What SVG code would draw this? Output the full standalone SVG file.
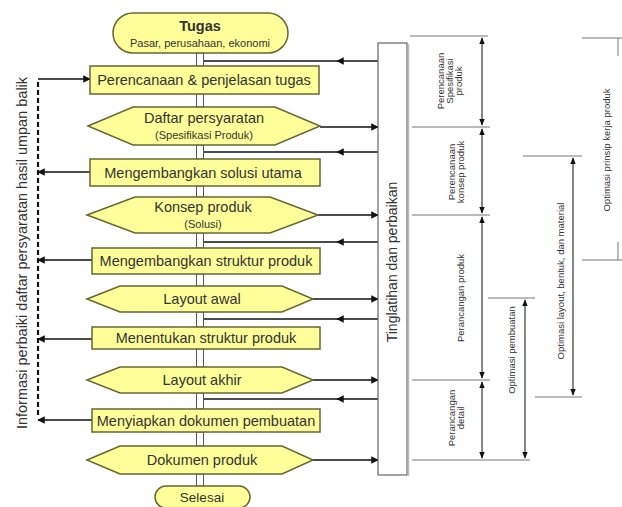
<svg xmlns="http://www.w3.org/2000/svg" width="622" height="507" viewBox="0 0 622 507">
<style>
.nd{fill:#ffff99;stroke:#666633;stroke-width:1.5}
.t{font-family:"Liberation Sans",Arial,sans-serif;fill:#333;text-anchor:middle}
.m{font-size:14.5px}
.s{font-size:11px}
.c{fill:#fff;stroke:#555;stroke-width:1}
.ln{stroke:#111;stroke-width:1.5;fill:none}
.tk{stroke:#777;stroke-width:1;fill:none}
.va{stroke:#111;stroke-width:1;fill:none;marker-start:url(#ah2);marker-end:url(#ah2)}
.r{font-family:"Liberation Sans",Arial,sans-serif;fill:#333;text-anchor:middle;font-size:9.5px}
</style>
<defs>
<marker id="ah" viewBox="0 0 10 10" refX="9" refY="5" markerWidth="5" markerHeight="5" orient="auto"><path d="M0,0L10,5L0,10z" fill="#111"/></marker>
<marker id="ahm" viewBox="0 0 10 10" refX="5" refY="5" markerWidth="5" markerHeight="5" orient="auto"><path d="M0,0L10,5L0,10z" fill="#111"/></marker>
<marker id="ah2" viewBox="0 0 10 10" refX="9" refY="5" markerWidth="7" markerHeight="7" orient="auto-start-reverse"><path d="M0,1L10,5L0,9z" fill="#111"/></marker>
</defs>

<g id="connectors">
<rect class="c" x="196.5" y="53" width="7" height="13"/>
<rect class="c" x="196.5" y="94" width="7" height="13"/>
<rect class="c" x="196.5" y="145" width="7" height="14"/>
<rect class="c" x="196.5" y="186" width="7" height="11"/>
<rect class="c" x="196.5" y="233" width="7" height="15"/>
<rect class="c" x="196.5" y="274" width="7" height="12"/>
<rect class="c" x="196.5" y="312" width="7" height="15"/>
<rect class="c" x="196.5" y="349" width="7" height="18"/>
<rect class="c" x="196.5" y="393" width="7" height="16"/>
<rect class="c" x="196.5" y="432" width="7" height="14"/>
<rect class="c" x="196.5" y="474" width="7" height="12"/>
<path class="ln" d="M378,61L340,61L204,61" marker-mid="url(#ahm)"/>
<path class="ln" d="M378,152L340,152L204,152" marker-mid="url(#ahm)"/>
<path class="ln" d="M378,242L340,242L204,242" marker-mid="url(#ahm)"/>
<path class="ln" d="M378,319L340,319L204,319" marker-mid="url(#ahm)"/>
<path class="ln" d="M378,399L340,399L204,399" marker-mid="url(#ahm)"/>
<path class="ln" d="M320,127L378,127" marker-end="url(#ah)"/>
<path class="ln" d="M318,215L378,215" marker-end="url(#ah)"/>
<path class="ln" d="M313,299L378,299" marker-end="url(#ah)"/>
<path class="ln" d="M313,380L378,380" marker-end="url(#ah)"/>
<path class="ln" d="M313,460L378,460" marker-end="url(#ah)"/>
<path d="M38,82L38,418" stroke="#111" stroke-width="2.2" stroke-dasharray="5,3" fill="none"/>
<path class="ln" d="M38,79L90,79" marker-end="url(#ah)"/>
<path class="ln" d="M92,172L38,172" marker-end="url(#ah)"/>
<path class="ln" d="M92,260L38,260" marker-end="url(#ah)"/>
<path class="ln" d="M92,339L38,339" marker-end="url(#ah)"/>
<path class="ln" d="M92,420L38,420" marker-end="url(#ah)"/>
</g>

<g id="n-tugas">
<rect class="nd" x="113" y="13" width="175" height="40" rx="20" ry="20"/>
<text class="t" x="200" y="31" font-size="14.5" font-weight="bold">Tugas</text>
<text class="t" x="200" y="47" font-size="11">Pasar, perusahaan, ekonomi</text>
</g>
<g id="n-perencanaan">
<rect class="nd" x="90" y="66" width="229" height="28"/>
<text class="t m" x="204" y="85">Perencanaan &amp; penjelasan tugas</text>
</g>
<g id="n-daftar">
<polygon class="nd" points="88,126 133,107 275,107 320,126 275,145 133,145"/>
<text class="t m" x="204" y="123">Daftar persyaratan</text>
<text class="t s" x="204" y="139">(Spesifikasi Produk)</text>
</g>
<g id="n-solusi">
<rect class="nd" x="90" y="159" width="230" height="27"/>
<text class="t m" x="203" y="178">Mengembangkan solusi utama</text>
</g>
<g id="n-konsep">
<polygon class="nd" points="87,215 135,197 270,197 318,215 270,233 135,233"/>
<text class="t m" x="203" y="212">Konsep produk</text>
<text class="t s" x="203" y="228">(Solusi)</text>
</g>
<g id="n-struktur">
<rect class="nd" x="92" y="248" width="228" height="26"/>
<text class="t m" x="206" y="266">Mengembangkan struktur produk</text>
</g>
<g id="n-layoutawal">
<polygon class="nd" points="87,299 120,286 282,286 313,299 282,312 120,312"/>
<text class="t m" x="202" y="304">Layout awal</text>
</g>
<g id="n-menentukan">
<rect class="nd" x="92" y="327" width="228" height="22"/>
<text class="t m" x="206" y="343">Menentukan struktur produk</text>
</g>
<g id="n-layoutakhir">
<polygon class="nd" points="87,380 120,367 282,367 313,380 282,393 120,393"/>
<text class="t m" x="202" y="385">Layout akhir</text>
</g>
<g id="n-menyiapkan">
<rect class="nd" x="92" y="409" width="228" height="23"/>
<text class="t m" x="206" y="426">Menyiapkan dokumen pembuatan</text>
</g>
<g id="n-dokumen">
<polygon class="nd" points="87,460 120,446 282,446 313,460 282,474 120,474"/>
<text class="t m" x="202" y="465">Dokumen produk</text>
</g>
<g id="n-selesai">
<rect class="nd" x="155" y="486" width="95" height="22" rx="11" ry="11"/>
<text class="t" x="202" y="502" font-size="13.5">Selesai</text>
</g>

<g id="n-iterasi">
<rect x="378" y="43" width="29" height="432" fill="#fff" stroke="#666" stroke-width="1.2"/>
<line x1="408.5" y1="44" x2="408.5" y2="476" stroke="#bbb" stroke-width="1.5"/>
<text class="t" font-size="14" transform="translate(397,262) rotate(-90)">Tinglatihan dan perbaikan</text>
</g>

<g id="n-feedback-label">
<text class="t" font-size="14.5" transform="translate(27,253) rotate(-90)">Informasi perbaiki daftar persyaratan hasil umpan balik</text>
</g>

<g id="phases">
<path class="tk" d="M410,36H488M412,127H490M412,215H490M412,380H490M412,460H530M488,298H535"/>
<line class="va" x1="482" y1="38" x2="482" y2="125"/>
<line class="va" x1="482" y1="129" x2="482" y2="213"/>
<line class="va" x1="482" y1="217" x2="482" y2="378"/>
<line class="va" x1="482" y1="382" x2="482" y2="458"/>
<text class="r" transform="translate(444,81) rotate(-90)">Perencanaan</text>
<text class="r" transform="translate(453,81) rotate(-90)">Spesifikasi</text>
<text class="r" transform="translate(462,81) rotate(-90)">produk</text>
<text class="r" transform="translate(455,172) rotate(-90)">Perencanaan</text>
<text class="r" transform="translate(464,172) rotate(-90)">konsep produk</text>
<text class="r" transform="translate(464,298) rotate(-90)">Perancangan produk</text>
<text class="r" transform="translate(455,418) rotate(-90)">Perancangan</text>
<text class="r" transform="translate(464,418) rotate(-90)">detail</text>
<line class="va" x1="525" y1="300" x2="525" y2="458"/>
<text class="r" font-size="9" transform="translate(515,350) rotate(-90)">Optimasi pembuatan</text>
<path class="tk" d="M523,156H582M535,397H582"/>
<line class="va" x1="573" y1="158" x2="573" y2="395"/>
<text class="r" transform="translate(564,281) rotate(-90)">Optimasi layout, bentuk, dan material</text>
<path class="tk" d="M582,38H622M582,260H622M618,38V56M618,242V260"/>
<text class="r" transform="translate(610,150) rotate(-90)">Optimasi prinsip kerja produk</text>
</g>
</svg>
